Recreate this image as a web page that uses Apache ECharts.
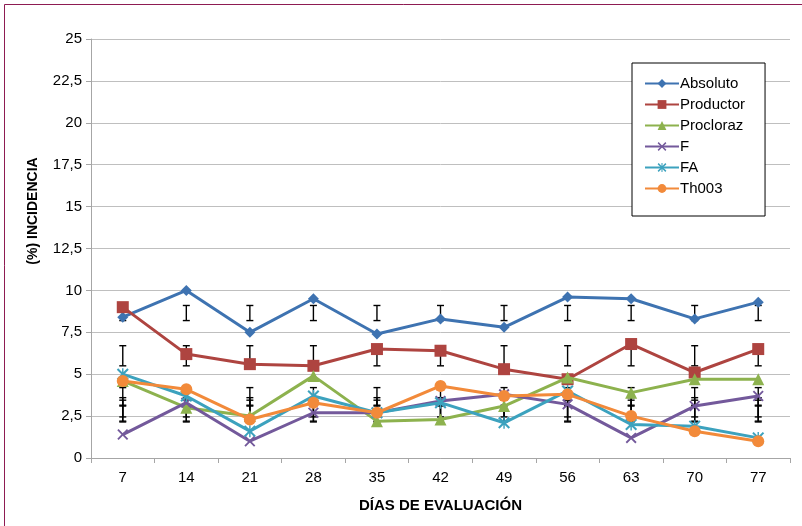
<!DOCTYPE html>
<html>
<head>
<meta charset="utf-8">
<script src="https://cdn.jsdelivr.net/npm/echarts@6/dist/echarts.min.js"></script>
<style>html,body{margin:0;padding:0;background:#fff;}#c{width:802px;height:526px;}</style>
</head>
<body>
<div id="c"></div>
<script>
var categories = ['7','14','21','28','35','42','49','56','63','70','77'];
var yTicks = [0, 2.5, 5, 7.5, 10, 12.5, 15, 17.5, 20, 22.5, 25];

var absoluto  = [8.4, 10.0, 7.5, 9.5, 7.4, 8.3, 7.8, 9.6, 9.5, 8.3, 9.3];
var productor = [9.0, 6.2, 5.6, 5.5, 6.5, 6.4, 5.3, 4.7, 6.8, 5.1, 6.5];
var procloraz = [4.6, 3.0, 2.5, 4.9, 2.2, 2.3, 3.1, 4.8, 3.9, 4.7, 4.7];
var seriesF   = [1.4, 3.3, 1.0, 2.7, 2.7, 3.4, 3.8, 3.2, 1.2, 3.1, 3.7];
var seriesFA  = [5.0, 3.7, 1.6, 3.7, 2.7, 3.3, 2.1, 4.0, 2.0, 1.9, 1.2];
var th003     = [4.6, 4.1, 2.3, 3.3, 2.7, 4.3, 3.7, 3.8, 2.5, 1.6, 1.0];

// error bar extents (low, high), same at every day
var errAbsoluto  = [8.2, 9.1];
var errProductor = [5.5, 6.7];
var errProcloraz = [3.1, 4.2];
var errF         = [2.15, 3.15];
var errFA        = [2.2, 3.45];
var errTh003     = [2.45, 3.6];

var names  = ['Absoluto','Productor','Procloraz','F','FA','Th003'];
var colors = ['#3E73B1','#AE4440','#8DB24E','#73599B','#3CA2BE','#F28A3A'];
var values = [absoluto, productor, procloraz, seriesF, seriesFA, th003];
var errs   = [errAbsoluto, errProductor, errProcloraz, errF, errFA, errTh003];

var xPath = 'path://M0,1.2L1.2,0L5,3.8L8.8,0L10,1.2L6.2,5L10,8.8L8.8,10L5,6.2L1.2,10L0,8.8L3.8,5Z';
var starPath = 'path://M0,1.2L1.2,0L5,3.8L8.8,0L10,1.2L6.2,5L10,8.8L8.8,10L5,6.2L1.2,10L0,8.8L3.8,5Z M4.4,0L5.6,0L5.6,10L4.4,10Z';
var symbols = ['diamond','rect','triangle',xPath,starPath,'circle'];
var sizes   = [11, 12, 12, 11, 12, 12];

var font = "'Liberation Sans',sans-serif";

var series = [];
errs.forEach(function(e, si){
  series.push({
    type: 'custom',
    name: 'err' + si,
    z: 1,
    silent: true,
    data: categories.map(function(c, i){ return [i, e[0], e[1]]; }),
    renderItem: function(params, api){
      var x = api.value(0);
      var lo = api.coord([x, api.value(1)]);
      var hi = api.coord([x, api.value(2)]);
      var w = 3.5;
      var st = {stroke: '#000', lineWidth: 1.4};
      return {type: 'group', children: [
        {type:'line', shape:{x1:lo[0], y1:lo[1], x2:hi[0], y2:hi[1]}, style: st},
        {type:'line', shape:{x1:lo[0]-w, y1:lo[1], x2:lo[0]+w, y2:lo[1]}, style: st},
        {type:'line', shape:{x1:hi[0]-w, y1:hi[1], x2:hi[0]+w, y2:hi[1]}, style: st}
      ]};
    }
  });
});
names.forEach(function(n, i){
  series.push({
    type: 'line',
    name: n,
    z: 2 + i,
    data: values[i],
    symbol: symbols[i],
    symbolSize: sizes[i],
    showAllSymbol: true,
    lineStyle: {color: colors[i], width: 3},
    itemStyle: {color: colors[i], borderColor: colors[i], borderWidth: 0},
    emphasis: {disabled: true},
    animation: false
  });
});

var chart = echarts.init(document.getElementById('c'), null, {renderer: 'canvas'});
chart.setOption({
  animation: false,
  backgroundColor: '#fff',
  graphic: [{
    type: 'rect',
    shape: {x: 4.5, y: 4.5, width: 820, height: 540},
    style: {fill: 'none', stroke: '#8E1B52', lineWidth: 1}
  }, {
    type: 'text',
    x: 33, y: 211,
    rotation: Math.PI / 2,
    style: {text: '(%) INCIDENCIA', font: "bold 14px 'Liberation Sans', sans-serif", fill: '#000', align: 'center', verticalAlign: 'middle'}
  }],
  grid: {left: 91, right: 12, top: 39, bottom: 68},
  legend: {
    data: names,
    orient: 'vertical',
    left: 632, top: 63,
    padding: [13, 20, 20, 12],
    itemGap: 6,
    itemWidth: 34, itemHeight: 11,
    borderColor: '#000', borderWidth: 1, backgroundColor: '#fff',
    textStyle: {fontFamily: font, fontSize: 15, color: '#000', padding: [0,0,0,-4]}
  },
  xAxis: {
    type: 'category',
    data: categories,
    boundaryGap: true,
    axisLine: {lineStyle: {color: '#A6A6A6', width: 1}},
    axisTick: {show: true, alignWithLabel: false, length: 5, lineStyle: {color: '#A6A6A6'}},
    axisLabel: {fontFamily: font, fontSize: 15, color: '#000', margin: 12},
    name: 'DÍAS DE EVALUACIÓN',
    nameLocation: 'middle',
    nameGap: 40,
    nameTextStyle: {fontFamily: font, fontSize: 15, fontWeight: 'bold', color: '#000'}
  },
  yAxis: {
    type: 'value',
    min: 0, max: 25, interval: 2.5,
    axisLine: {show: true, lineStyle: {color: '#A6A6A6', width: 1}},
    axisTick: {show: true, length: 5, lineStyle: {color: '#A6A6A6'}},
    splitLine: {lineStyle: {color: '#BFBFBF', width: 1}},
    axisLabel: {
      fontFamily: font, fontSize: 15, color: '#000', margin: 9,
      formatter: function(v){ return yTicks.indexOf(v) >= 0 ? String(v).replace('.', ',') : ''; }
    }
  },
  series: series
});
</script>
</body>
</html>
